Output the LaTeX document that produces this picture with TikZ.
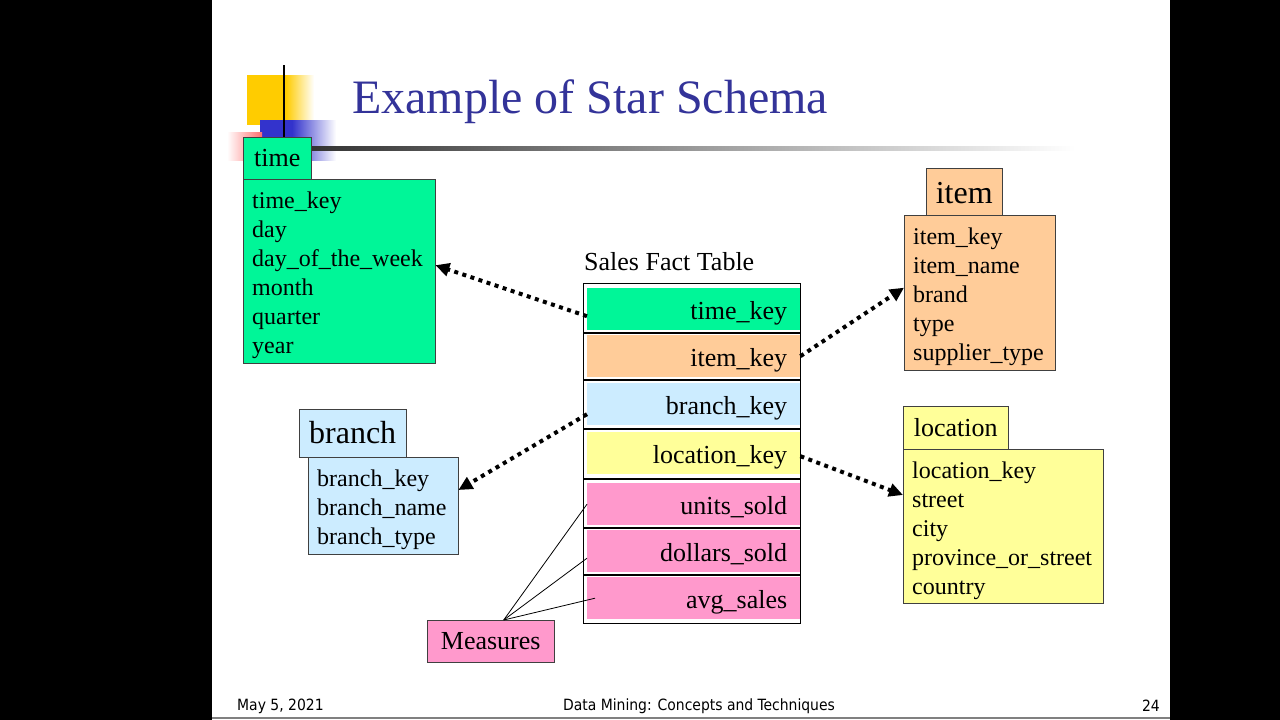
\documentclass[tikz,border=0pt]{standalone}
\usepackage{fontspec}
\setmainfont{Liberation Serif}
\newfontfamily\footfont{DejaVu Sans Condensed}
\usetikzlibrary{arrows.meta,calc,positioning}

\definecolor{timegreen}{RGB}{0,246,152}
\definecolor{itempeach}{RGB}{255,204,153}
\definecolor{branchblue}{RGB}{204,236,255}
\definecolor{locyellow}{RGB}{255,255,153}
\definecolor{measpink}{RGB}{255,153,204}
\definecolor{titleblue}{RGB}{51,51,153}
\definecolor{decoyellow}{RGB}{255,204,0}
\definecolor{decoblue}{RGB}{51,51,204}
\definecolor{decored}{RGB}{255,110,110}

\begin{document}
\begin{tikzpicture}[
  x=1pt, y=-1pt,
  font=\fontsize{24}{29}\selectfont,
  dimhead/.style={draw=black!75, inner sep=0pt},
  dimbody/.style={draw=black!75, anchor=north west, align=left, inner xsep=9pt, inner ysep=0pt,
    text height=25.5pt},
  factrow/.style={anchor=north west, minimum height=42pt, text width=187pt, inner xsep=13pt,
    inner ysep=0pt, align=right, text height=23pt, text depth=2pt, font=\fontsize{26}{31}\selectfont},
  rowsep/.style={line width=2pt},
  fk/.style={line width=4pt, dash pattern=on 4pt off 4.5pt, -{Triangle[length=14pt,width=13pt]}},
  mline/.style={line width=0.8pt},
  foot/.style={inner sep=0pt, font=\footfont\fontsize{15.5}{18}\selectfont}
]
\useasboundingbox (0,0) rectangle (1280,720);
\fill[black] (0,0) rectangle (1280,720);
\fill[white] (212,0) rectangle (1170,720);
\draw[black!50, line width=1.5pt] (212,718) -- (1170,718);

% slide decoration
\fill[decoyellow] (247,75) rectangle (286,125);
\shade[left color=decoyellow, right color=white] (286,75) rectangle (314,125);
\fill[decoblue] (260,120) rectangle (292,160);
\shade[left color=decoblue, right color=white] (292,120) rectangle (336,160);
\shade[left color=white, right color=decored] (227,132) rectangle (262,160);
\draw[line width=2.5pt] (284,65) -- (284,137);
\shade[left color=black!80, right color=white] (311,146.5) rectangle (1075,150);

\node[anchor=base west, inner sep=0pt, text=titleblue, font=\fontsize{48}{57}\selectfont]
  (title) at (352,113) {Example of Star Schema};

% dimension tables
\node[dimbody, fill=timegreen, text width=174pt, minimum height=184pt] (timebody) at (243,179)
  {time\_key\\day\\day\_of\_the\_week\\month\\quarter\\year};
\node[dimhead, fill=timegreen, minimum width=68pt, minimum height=42pt,
  font=\fontsize{26}{31}\selectfont, above right=0pt and 0pt of timebody.north west] (timehead) {time};

\node[dimbody, fill=itempeach, text width=133pt, minimum height=155pt] (itembody) at (904,215)
  {item\_key\\item\_name\\brand\\type\\supplier\_type};
\node[dimhead, fill=itempeach, minimum width=76pt, minimum height=47pt, text height=24pt,
  font=\fontsize{32}{38}\selectfont, above right=0pt and 22pt of itembody.north west] (itemhead) {item};

\node[dimbody, fill=branchblue, text width=132pt, minimum height=97pt] (branchbody) at (308,457)
  {branch\_key\\branch\_name\\branch\_type};
\node[dimhead, fill=branchblue, minimum width=107pt, minimum height=48pt,
  font=\fontsize{32}{38}\selectfont, above right=0pt and -9pt of branchbody.north west] (branchhead) {branch};

\node[dimbody, fill=locyellow, text width=182pt, minimum height=154pt] (locbody) at (903,449)
  {location\_key\\street\\city\\province\_or\_street\\country};
\node[dimhead, fill=locyellow, minimum width=105pt, minimum height=43pt,
  font=\fontsize{26}{31}\selectfont, above right=0pt and 0pt of locbody.north west] (lochead) {location};

% fact table
\node[draw, line width=1pt, anchor=north west, minimum width=217pt, minimum height=340pt,
  inner sep=0pt] (fact) at (583,283) {};
\node[anchor=south west, inner sep=0pt, font=\fontsize{26}{31}\selectfont,
  above right=12pt and 1pt of fact.north west] (facttitle) {Sales Fact Table};
\foreach \n/\t/\c/\lab in {tk/288/timegreen/time\_key, ik/335/itempeach/item\_key,
    bk/383/branchblue/branch\_key, lk/432/locyellow/location\_key,
    us/483/measpink/units\_sold, ds/530/measpink/dollars\_sold, as/577/measpink/avg\_sales}
  \node[factrow, fill=\c] (\n) at (587,\t) {\lab};
\foreach \a/\b in {tk/ik, ik/bk, bk/lk, lk/us, us/ds, ds/as} {
  \coordinate (m) at ($(\a.south)!0.5!(\b.north)$);
  \draw[rowsep] (m -| fact.west) -- (m -| fact.east);
}

\node[draw=black!75, fill=measpink, anchor=north west, minimum width=127pt, minimum height=42pt,
  inner sep=0pt, font=\fontsize{26}{31}\selectfont] (meas) at (427,620) {Measures};

% foreign keys
\draw[fk] ([yshift=-7pt]tk.west) -- ([yshift=6pt]timebody.east);
\draw[fk] (ik.east) -- ([yshift=5pt]itembody.west);
\draw[fk] ([yshift=-10pt]bk.west) -- ([yshift=-33pt]branchbody.north east);
\draw[fk] ([yshift=-3pt]lk.east) -- ([yshift=-46pt]locbody.north west);

% measures
\draw[mline] ([xshift=13pt]meas.north) -- (us.west);
\draw[mline] ([xshift=13pt]meas.north) -- ([yshift=-7pt]ds.west);
\draw[mline] ([xshift=13pt]meas.north) -- ([xshift=8pt]as.west);

% footer
\node[foot, anchor=west] (date) at (237,706) {May 5, 2021};
\node[foot] (course) at (699,706) {Data Mining: Concepts and Techniques};
\node[foot, anchor=east] (page) at (1160,706) {24};
\end{tikzpicture}
\end{document}
